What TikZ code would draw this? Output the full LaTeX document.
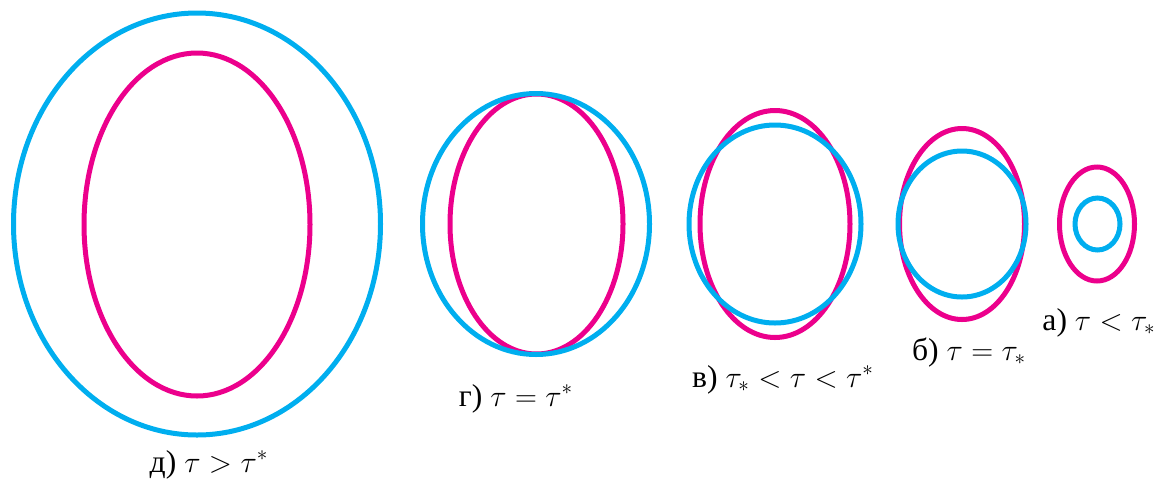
\documentclass[tikz,border=0pt]{standalone}
\usepackage{fontspec}
\setmainfont{Liberation Serif}
\usetikzlibrary{shapes.geometric}

\definecolor{ringblue}{RGB}{0,174,239}
\definecolor{ringpink}{RGB}{236,0,140}

\begin{document}
\begin{tikzpicture}[
    ring/.style={ellipse,draw,line width=0.1cm,inner sep=0pt,outer sep=0pt},
    caption/.style={anchor=base,font=\fontsize{18}{21}\selectfont}
  ]
  \useasboundingbox (0,0) rectangle (23.18,-9.92);

  % case d
  \node[ring,ringpink,minimum width=4.52cm,minimum height=6.86cm] (pinkD) at (3.94,-4.49) {};
  \node[ring,ringblue,minimum width=7.34cm,minimum height=8.44cm] (blueD) at (3.94,-4.48) {};
  \node[caption] (capD) at (4.18,-9.44) {д) $\tau>\tau^{*}$};

  % case g
  \node[ring,ringpink,minimum width=3.46cm,minimum height=5.2cm] (pinkG) at (10.73,-4.48) {};
  \node[ring,ringblue,minimum width=4.54cm,minimum height=5.22cm] (blueG) at (10.72,-4.48) {};
  \node[caption] (capG) at (10.32,-8.12) {г) $\tau=\tau^{*}$};

  % case v
  \node[ring,ringpink,minimum width=3.0cm,minimum height=4.54cm] (pinkV) at (15.5,-4.48) {};
  \node[ring,ringblue,minimum width=3.44cm,minimum height=3.96cm] (blueV) at (15.5,-4.48) {};
  \node[caption] (capV) at (15.66,-7.74) {в) $\tau_{*}<\tau<\tau^{*}$};

  % case b
  \node[ring,ringpink,minimum width=2.5cm,minimum height=3.82cm] (pinkB) at (19.24,-4.48) {};
  \node[ring,ringblue,minimum width=2.56cm,minimum height=2.92cm] (blueB) at (19.24,-4.48) {};
  \node[caption] (capB) at (19.38,-7.2) {б) $\tau=\tau_{*}$};

  % case a
  \node[ring,ringpink,minimum width=1.5cm,minimum height=2.28cm] (pinkA) at (21.94,-4.48) {};
  \node[ring,ringblue,minimum width=0.9cm,minimum height=1.04cm] (blueA) at (21.95,-4.48) {};
  \node[caption] (capA) at (21.98,-6.6) {а) $\tau<\tau_{*}$};
\end{tikzpicture}
\end{document}
